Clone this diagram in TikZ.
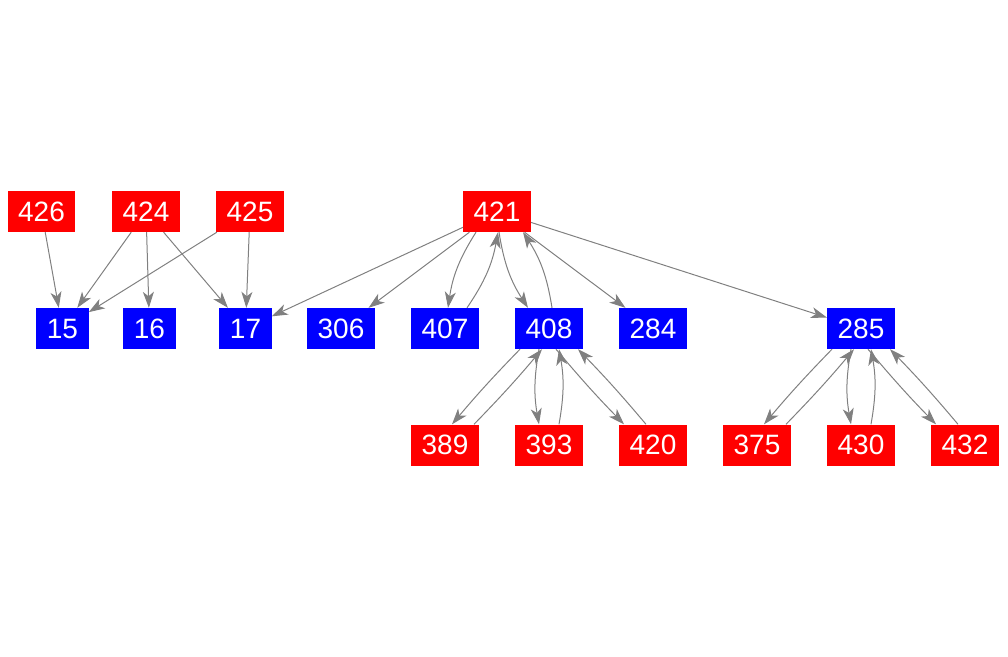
\documentclass[tikz,border=0pt]{standalone}
\usepackage{fontspec}
\setmainfont{Liberation Sans}
\usetikzlibrary{arrows.meta}
\begin{document}
\begin{tikzpicture}[x=1pt,y=-1pt,
    vtx/.style={minimum height=41pt, inner xsep=10.5pt, inner ysep=0pt,
      text=white, font=\fontsize{28}{30}\selectfont},
    src/.style={vtx, fill=red},
    dst/.style={vtx, fill=blue},
    edge/.style={draw=gray, line width=1pt,
      -{Stealth[length=16pt,width=11pt,inset=4.5pt]}}]
  \useasboundingbox (0,0) rectangle (1008,656);

  % top row
  \node[src] (n426) at (41.5,211.5) {426};
  \node[src] (n424) at (146,211.5) {424};
  \node[src] (n425) at (250,211.5) {425};
  \node[src] (n421) at (497,211.5) {421};

  % middle row
  \node[dst] (n15)  at (62.5,328.5) {15};
  \node[dst] (n16)  at (149.5,328.5) {16};
  \node[dst] (n17)  at (245.5,328.5) {17};
  \node[dst] (n306) at (341,328.5) {306};
  \node[dst] (n407) at (445,328.5) {407};
  \node[dst] (n408) at (549,328.5) {408};
  \node[dst] (n284) at (653,328.5) {284};
  \node[dst] (n285) at (861,328.5) {285};

  % bottom row
  \node[src] (n389) at (445,445) {389};
  \node[src] (n393) at (549,445) {393};
  \node[src] (n420) at (653,445) {420};
  \node[src] (n375) at (757,445) {375};
  \node[src] (n430) at (861,445) {430};
  \node[src] (n432) at (965,445) {432};

  \draw[edge] (n426) -- (n15);
  \draw[edge] (n424) -- (n15);
  \draw[edge] (n424) -- (n16);
  \draw[edge] (n424) -- (n17);
  \draw[edge] (n425) -- (n15);
  \draw[edge] (n425) -- (n17);
  \draw[edge] (n421) -- (n17);
  \draw[edge] (n421) -- (n306);
  \draw[edge] (n421) -- (n284);
  \draw[edge] (n421) -- (n285);

  % both ways from 421
  \draw[edge] ([xshift=-21pt]n421.south) to[bend right=12] ([xshift=3pt]n407.north);
  \draw[edge] ([xshift=22pt]n407.north) to[bend right=12] ([xshift=1pt]n421.south);
  \draw[edge] ([xshift=2pt]n421.south) to[bend right=12] ([xshift=-21pt]n408.north);
  \draw[edge] ([xshift=3pt]n408.north) to[bend right=12] ([xshift=26pt]n421.south);

  % both ways below 408 and 285
  \foreach \u/\v in {n408/n389, n285/n375} {
    \draw[edge] ([xshift=-29pt]\u.south) to[bend right=2] ([xshift=7pt]\v.north);
    \draw[edge] ([xshift=29pt]\v.north) to[bend right=2] ([xshift=-7pt]\u.south);
  }
  \foreach \u/\v in {n408/n393, n285/n430} {
    \draw[edge] ([xshift=-10pt]\u.south) to[bend right=10] ([xshift=-10pt]\v.north);
    \draw[edge] ([xshift=10pt]\v.north) to[bend right=10] ([xshift=10pt]\u.south);
  }
  \foreach \u/\v in {n408/n420, n285/n432} {
    \draw[edge] ([xshift=7pt]\u.south) to[bend right=2] ([xshift=-29pt]\v.north);
    \draw[edge] ([xshift=-7pt]\v.north) to[bend right=2] ([xshift=29pt]\u.south);
  }
\end{tikzpicture}
\end{document}
